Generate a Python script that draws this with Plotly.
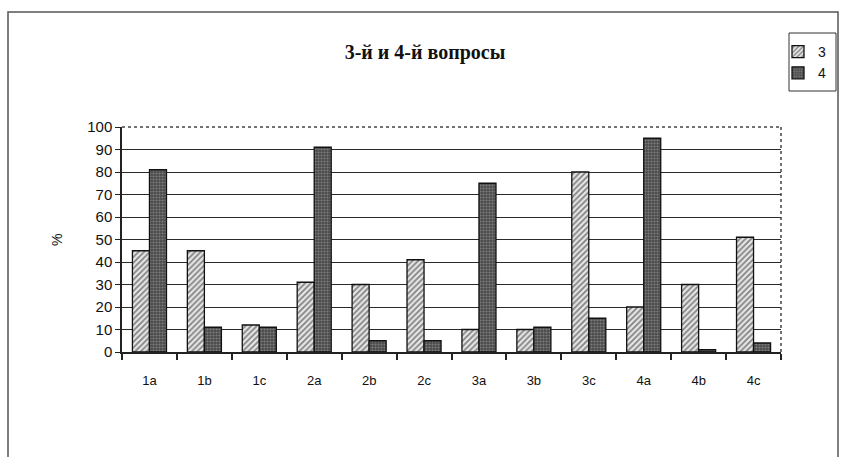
import plotly.graph_objects as go

# Question items and the share of answers (%) for questions 3 and 4
categories = ["1a", "1b", "1c", "2a", "2b", "2c", "3a", "3b", "3c", "4a", "4b", "4c"]
q3_values = [45, 45, 12, 31, 30, 41, 10, 10, 80, 20, 30, 51]
q4_values = [81, 11, 11, 91, 5, 5, 75, 11, 15, 95, 1, 4]
y_ticks = [0, 10, 20, 30, 40, 50, 60, 70, 80, 90, 100]

fig = go.Figure()
fig.add_trace(go.Bar(
    name="3", x=categories, y=q3_values,
    marker=dict(color="#f0f0f0", line=dict(color="#111111", width=1.3),
                pattern=dict(shape="/", fgcolor="#1e1e1e", bgcolor="#e6e6e6",
                             size=4, solidity=0.45, fillmode="overlay")),
))
fig.add_trace(go.Bar(
    name="4", x=categories, y=q4_values,
    marker=dict(color="#555555", line=dict(color="#111111", width=1.3),
                pattern=dict(shape=".", fgcolor="#b0b0b0", bgcolor="#4a4a4a",
                             size=3, solidity=0.4, fillmode="overlay")),
))

L, R, T, B = 122, 781, 127, 352
W, H = 845, 457
pw, ph = R - L, B - T


def px_x(px):
    return (px - L) / pw


def px_y(py):
    return (B - py) / ph


shapes = [
    # outer chart frame
    dict(type="rect", xref="paper", yref="paper",
         x0=px_x(8), x1=px_x(838), y0=px_y(470), y1=px_y(12),
         line=dict(color="#555555", width=1.5), fillcolor="rgba(0,0,0,0)", layer="below"),
    # dotted top and right edges of the plot area
    dict(type="line", xref="paper", yref="paper", x0=0, x1=1, y0=1, y1=1,
         line=dict(color="#444444", width=1.5, dash="dot")),
    dict(type="line", xref="paper", yref="paper", x0=1, x1=1, y0=0, y1=1,
         line=dict(color="#444444", width=1.5, dash="dot")),
    # legend box
    dict(type="rect", xref="paper", yref="paper",
         x0=px_x(789), x1=px_x(836), y0=px_y(91), y1=px_y(33),
         line=dict(color="#333333", width=1), fillcolor="rgba(0,0,0,0)"),
]

fig.update_layout(
    width=W, height=H,
    margin=dict(l=L, r=W - R, t=T, b=H - B, autoexpand=False),
    paper_bgcolor="white", plot_bgcolor="white",
    barmode="group", bargap=0.38, bargroupgap=0,
    font=dict(family="Liberation Sans, Arial", size=13, color="#111111"),
    title=dict(text="<b>3-й и 4-й вопросы</b>", xref="container", x=425 / W,
               xanchor="center", yref="container", y=1 - 52 / H, yanchor="middle",
               font=dict(family="Liberation Serif, Times New Roman", size=20, color="#111111")),
    showlegend=True,
    legend=dict(xref="paper", yref="paper", x=px_x(778), y=px_y(36),
                xanchor="left", yanchor="top", bgcolor="rgba(0,0,0,0)",
                font=dict(size=14), itemwidth=30, tracegroupgap=0),
    shapes=shapes,
    annotations=[dict(text="%", xref="paper", yref="paper", x=px_x(47), y=px_y(240),
                      showarrow=False, textangle=-90, font=dict(size=14))],
)

fig.update_xaxes(
    type="category", tickson="boundaries", ticks="outside", ticklen=6,
    tickcolor="#222222", tickwidth=1.5, showline=True, linecolor="#222222",
    linewidth=1.5, showgrid=False, ticklabelstandoff=16, tickfont=dict(size=13),
)
fig.update_yaxes(
    range=[0, 100], tickvals=y_ticks, ticks="outside", ticklen=5,
    tickcolor="#222222", showline=True, linecolor="#222222", linewidth=1.5,
    showgrid=True, gridcolor="#2a2a2a", gridwidth=1.4, zeroline=False,
    tickfont=dict(size=15),
)

fig.write_html("out.html")
